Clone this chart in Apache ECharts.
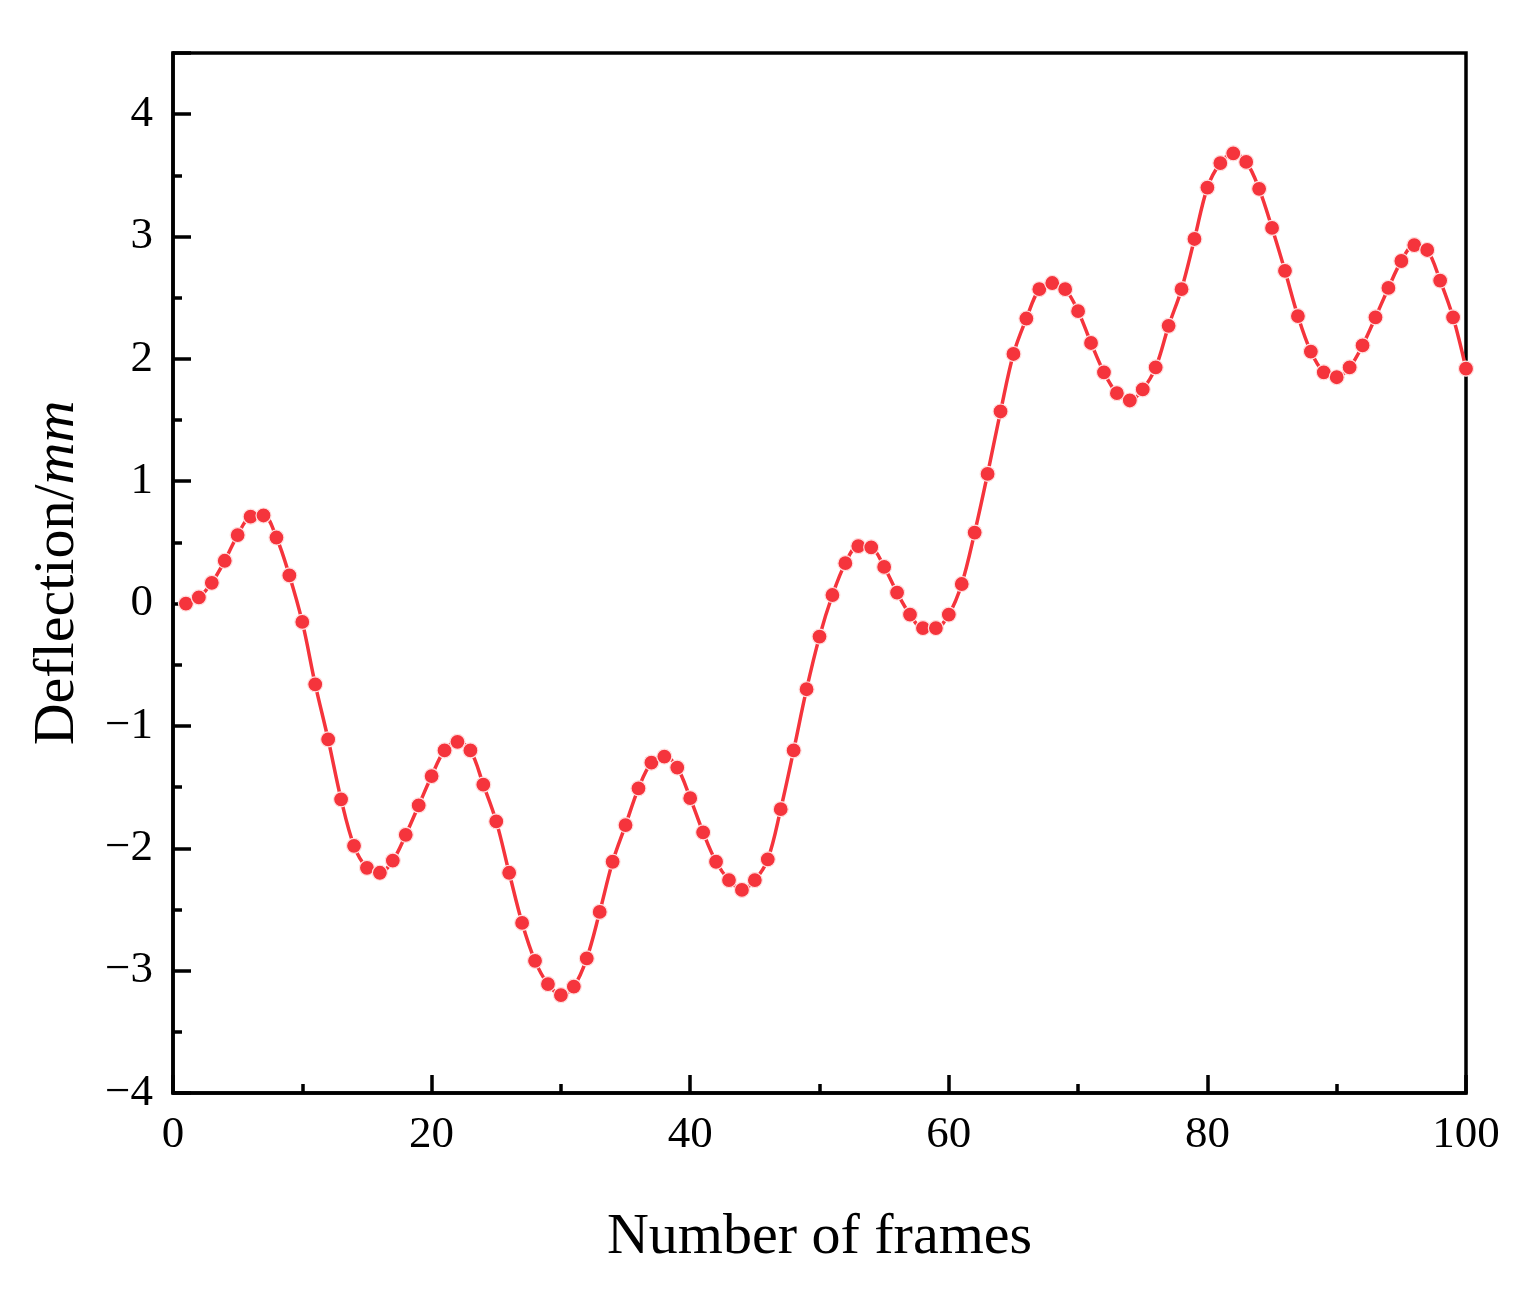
<!DOCTYPE html>
<html>
<head>
<meta charset="utf-8">
<script src="https://cdn.jsdelivr.net/npm/echarts@6/dist/echarts.min.js"></script>
<style>
html,body{margin:0;padding:0;background:#fff;}
#chart{width:1528px;height:1293px;}
</style>
</head>
<body>
<div id="chart"></div>
<script>
const frames = Array.from({length: 100}, (_, i) => i + 1);
const deflection = [
  0.00, 0.05, 0.17, 0.35, 0.56, 0.71, 0.72, 0.54, 0.23, -0.15,
  -0.66, -1.11, -1.60, -1.98, -2.16, -2.20, -2.10, -1.89, -1.65, -1.41,
  -1.20, -1.13, -1.20, -1.48, -1.78, -2.20, -2.61, -2.92, -3.11, -3.20,
  -3.13, -2.90, -2.52, -2.11, -1.81, -1.51, -1.30, -1.25, -1.34, -1.59,
  -1.87, -2.11, -2.26, -2.34, -2.26, -2.09, -1.68, -1.20, -0.70, -0.27,
  0.07, 0.33, 0.47, 0.46, 0.30, 0.09, -0.09, -0.20, -0.20, -0.09,
  0.16, 0.58, 1.06, 1.57, 2.04, 2.33, 2.57, 2.62, 2.57, 2.39,
  2.13, 1.89, 1.72, 1.66, 1.75, 1.93, 2.27, 2.57, 2.98, 3.40,
  3.60, 3.68, 3.61, 3.39, 3.07, 2.72, 2.35, 2.06, 1.89, 1.85,
  1.93, 2.11, 2.34, 2.58, 2.80, 2.93, 2.89, 2.64, 2.34, 1.92
];
const xTitle = 'Number of frames';
const yTitlePlain = 'Deflection/';
const yTitleItalic = 'mm';

const FONT = '"Liberation Serif", "Times New Roman", serif';
const chart = echarts.init(document.getElementById('chart'), null, {renderer: 'canvas'});
const pts = frames.map((f, i) => [f, deflection[i]]);
chart.setOption({
  animation: false,
  backgroundColor: '#ffffff',
  grid: {
    left: 173, right: 62, top: 53, bottom: 200,
    show: true, borderColor: '#000', borderWidth: 3.5, backgroundColor: 'transparent'
  },
  xAxis: {
    type: 'value', min: 0, max: 100, interval: 20,
    name: xTitle, nameLocation: 'middle', nameGap: 116,
    nameTextStyle: {fontFamily: FONT, fontSize: 58, color: '#000'},
    axisLine: {show: true, onZero: false, lineStyle: {color: '#000', width: 3.5}},
    axisTick: {show: true, inside: true, length: 18, lineStyle: {color: '#000', width: 3.5}},
    minorTick: {show: true, splitNumber: 2, length: 9, lineStyle: {color: '#000', width: 3.5}},
    axisLabel: {fontFamily: FONT, fontSize: 45, color: '#000', margin: 20},
    splitLine: {show: false}
  },
  yAxis: {
    type: 'value', min: -4, max: 4.5, interval: 1,
    name: '{a|' + yTitlePlain + '}{b|' + yTitleItalic + '}',
    nameLocation: 'middle', nameGap: 86, nameRotate: 90,
    nameTextStyle: {
      fontFamily: FONT, fontSize: 58, color: '#000',
      rich: {
        a: {fontFamily: FONT, fontSize: 58, color: '#000'},
        b: {fontFamily: FONT, fontSize: 58, color: '#000', fontStyle: 'italic'}
      }
    },
    axisLine: {show: true, onZero: false, lineStyle: {color: '#000', width: 3.5}},
    axisTick: {show: true, inside: true, length: 18, lineStyle: {color: '#000', width: 3.5}},
    minorTick: {show: true, splitNumber: 2, length: 9, lineStyle: {color: '#000', width: 3.5}},
    axisLabel: {
      fontFamily: FONT, fontSize: 45, color: '#000', margin: 20, showMaxLabel: false,
      formatter: v => (v < 0 ? '\u2212' + Math.abs(v) : String(v))
    },
    splitLine: {show: false}
  },
  series: [{
    type: 'line',
    data: pts,
    smooth: 0.35,
    clip: true,
    symbol: 'circle',
    symbolSize: 15,
    lineStyle: {color: '#f5343c', width: 3.5},
    itemStyle: {color: '#f5343c', borderColor: '#ffe0e0', borderWidth: 1.2}
  }]
});
</script>
</body>
</html>
